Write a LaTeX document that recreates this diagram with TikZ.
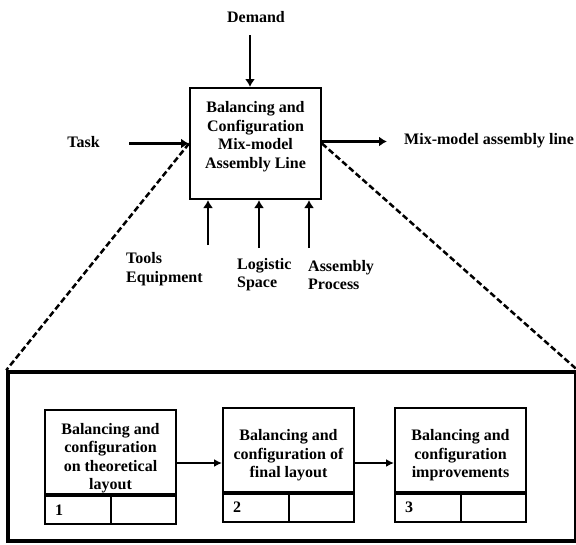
\documentclass[tikz,border=0pt]{standalone}
\usepackage{fontspec}
\setmainfont{Liberation Serif}
\usetikzlibrary{positioning,arrows.meta}
\tikzset{
txt/.style = {font=\bfseries\fontsize{16}{18.5}\selectfont, inner sep=0pt, align=#1},
txt/.default = center,
mainbox/.style = {draw, line width=2pt, minimum width=131pt, minimum height=111pt},
stagebox/.style = {draw, line width=2pt, minimum width=131pt, minimum height=84pt},
cellbox/.style = {draw, line width=2pt, minimum height=28pt, text width=45.5pt,
                  inner xsep=10pt, align=left, font=\bfseries\fontsize{16}{18.5}\selectfont},
flow/.style = {line width=2.5pt, -{Latex[length=8pt,width=10pt]}},
stageflow/.style = {line width=2pt, -{Latex[length=8pt,width=8pt]}},
zoomline/.style = {line width=2.5pt, dash pattern=on 6pt off 3pt}
}

\begin{document}
\begin{tikzpicture}[x=1pt, y=-1pt]
\useasboundingbox (0,0) rectangle (576,544);

% top level function box
\node [mainbox] (main) at (255.5,143.5) {};
\node [txt] (maintext) at ([yshift=7pt]main.center)
  {Balancing and\\Configuration\\Mix-model\\Assembly Line};

% inputs, controls and output
\node [txt] (demand) at (256,17) {Demand};
\coordinate (demandin) at (250,35);
\draw [flow] (demandin) -- (demandin |- main.north);

\node [txt] (task) at (83.5,142) {Task};
\coordinate (taskin) at (129,143.5);
\draw [flow] (taskin) -- (main.west);

\coordinate (outend) at (387,141.5);
\draw [flow] ([yshift=2pt]main.east) -- (outend);
\node [txt, anchor=west] (output) at (404,141) {Mix-model assembly line};

% mechanisms
\coordinate (toolsin) at (208,245);
\coordinate (logisticin) at (259,248);
\coordinate (processin) at (309,248);
\draw [flow] (toolsin) -- (toolsin |- main.south);
\draw [flow] (logisticin) -- (logisticin |- main.south);
\draw [flow] (processin) -- (processin |- main.south);
\node [txt=left, anchor=west] (tools) at (126,269) {Tools\\Equipment};
\node [txt=left, anchor=west] (logistic) at (237,274.5) {Logistic\\Space};
\node [txt=left, anchor=west] (process) at (308,275) {Assembly\\Process};

% detail frame
\node [draw, line width=3.5pt, minimum width=568pt, minimum height=169pt] (frame) at (292,456.5) {};
\draw [zoomline] (main.west) -- (frame.north west);
\draw [zoomline] (main.east) -- (frame.north east);

% stages
\node [stagebox] (s1) at (110.5,452) {};
\node [txt] (s1t) at ([yshift=-6pt]s1.center)
  {Balancing and\\configuration\\on theoretical\\layout};
\node [cellbox, anchor=north west] (s1n) at (s1.south west) {1};
\node [cellbox, anchor=north east] (s1e) at (s1.south east) {};

\node [stagebox] (s2) at (288.5,449.5) {};
\node [txt] (s2t) at ([yshift=-6pt]s2.center)
  {Balancing and\\configuration of\\final layout};
\node [cellbox, anchor=north west] (s2n) at (s2.south west) {2};
\node [cellbox, anchor=north east] (s2e) at (s2.south east) {};

\node [stagebox] (s3) at (460.5,449.5) {};
\node [txt] (s3t) at ([yshift=-6pt]s3.center)
  {Balancing and\\configuration\\improvements};
\node [cellbox, anchor=north west] (s3n) at (s3.south west) {3};
\node [cellbox, anchor=north east] (s3e) at (s3.south east) {};

\draw [stageflow] ([yshift=-11pt]s1.east) -- ([yshift=-13.5pt]s2.west);
\draw [stageflow] ([yshift=-13.5pt]s2.east) -- ([yshift=-13.5pt]s3.west);
\end{tikzpicture}
\end{document}
